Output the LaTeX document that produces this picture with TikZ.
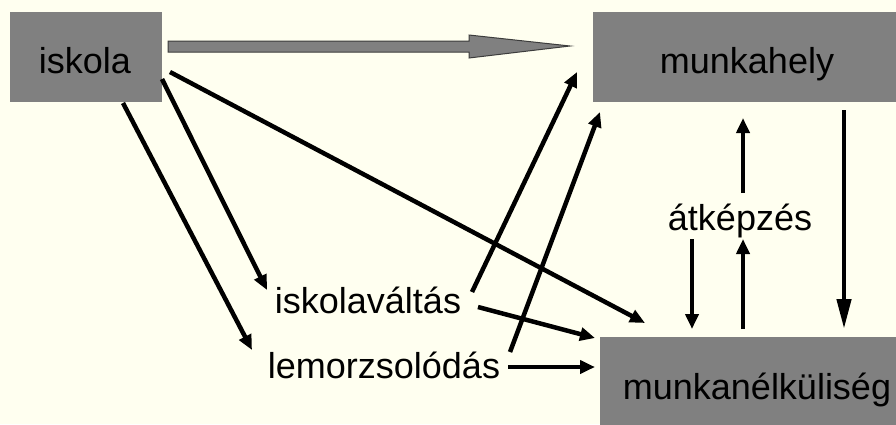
\documentclass[tikz,border=0pt]{standalone}
\usepackage{fontspec}
\setmainfont{Liberation Sans}
\usetikzlibrary{arrows.meta}
\definecolor{bg}{RGB}{255,255,240}
\definecolor{boxgray}{RGB}{128,128,128}
\definecolor{edgegray}{RGB}{60,60,60}
\tikzset{
  box/.style={fill=boxgray, draw=none, inner sep=0pt},
  lbl/.style={font=\fontsize{36}{40}\selectfont, inner sep=0pt, anchor=base, text=black},
  conn/.style={line width=4.5pt, -{Triangle[length=15pt,width=13pt]}},
  longconn/.style={line width=4.5pt, -{Triangle[length=30pt,width=14pt]}},
  bigarrow/.style={fill=boxgray, draw=edgegray, line width=1pt, line join=miter}
}
\begin{document}
\begin{tikzpicture}[x=1pt,y=-1pt]
\fill[bg] (0,0) rectangle (896,424);
\useasboundingbox (0,0) rectangle (896,424);
\clip (0,0) rectangle (896,424);
% boxes
\node[box, minimum width=152pt, minimum height=90pt] (iskolabox) at (86,57) {};
\node[box, minimum width=303pt, minimum height=90pt] (munkahelybox) at (744.5,57) {};
\node[box, minimum width=296pt, minimum height=90pt] (munkanbox) at (748,382) {};
% labels
\node[lbl] (iskola) at (85,73) {iskola};
\node[lbl] (munkahely) at (747,73) {munkahely};
\node[lbl] (munkan) at (757,399) {munkanélküliség};
\node[lbl] (iskvalt) at (368,313) {iskolaváltás};
\node[lbl] (lemorz) at (384,378) {lemorzsolódás};
\node[lbl] (atkepz) at (740,230) {átképzés};
% connector end points
\coordinate (i1) at (170,72);
\coordinate (i2) at (162,79);
\coordinate (i3) at (123,103);
\coordinate (n1) at (645,323);
\coordinate (v1) at (267,290);
\coordinate (l1) at (252,350);
\coordinate (v2) at (472,292);
\coordinate (m1) at (577,72);
\coordinate (l2) at (510,352);
\coordinate (m2) at (600,112);
\coordinate (v3) at (478,307);
\coordinate (n2) at (595,338);
\coordinate (l3) at (508,367);
\coordinate (n3) at (595,367);
\coordinate (a1) at (743,193);
\coordinate (m3) at (743,118);
\coordinate (n4) at (743,329);
\coordinate (a2) at (743,239);
\coordinate (a3) at (692,239);
\coordinate (n5) at (692,329);
\coordinate (m4) at (844,110);
\coordinate (n6) at (844,329);
\coordinate (bs) at (168,46.5);
% big gray arrow iskola -> munkahely
\draw[bigarrow] (bs) ++(0,-5.5) -- ++(301,0) -- ++(0,-6) -- ++(101,11) -- ++(-101,12) -- ++(0,-6) -- ++(-301,0) -- cycle;
% connectors
\draw[conn] (i1) -- (n1);
\draw[conn] (i2) -- (v1);
\draw[conn] (i3) -- (l1);
\draw[conn] (v2) -- (m1);
\draw[conn] (l2) -- (m2);
\draw[conn] (v3) -- (n2);
\draw[conn] (l3) -- (n3);
\draw[conn] (a1) -- (m3);
\draw[conn] (n4) -- (a2);
\draw[conn] (a3) -- (n5);
\draw[longconn] (m4) -- (n6);
\end{tikzpicture}
\end{document}
